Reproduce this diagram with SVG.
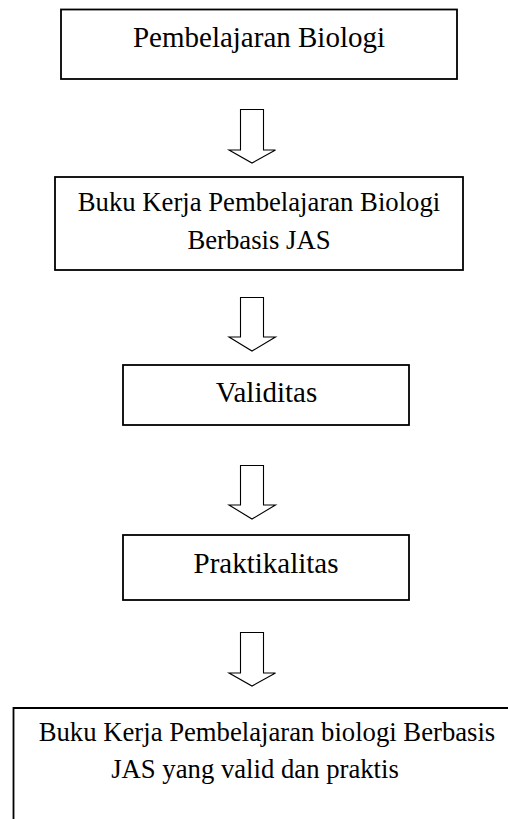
<svg xmlns="http://www.w3.org/2000/svg" width="508" height="819" viewBox="0 0 508 819">
<style>
.box{fill:#fff;stroke:#000;stroke-width:1.8}
.arr{fill:#fff;stroke:#000;stroke-width:1.1;stroke-linejoin:miter}
text{fill:#000;text-anchor:middle;font-family:"Liberation Serif","Times New Roman",serif}
.big{font-size:29px}
.med{font-size:26.7px}
</style>
<rect width="508" height="819" fill="#fff"/>
<g id="connectors">
<path class="arr" d="M240.5,109.5 H263.5 V150 H275.5 L252,163 L229,150 H240.5 Z"/>
<path class="arr" d="M240.5,297.5 H263.5 V337 H275.5 L252,351 L229,337 H240.5 Z"/>
<path class="arr" d="M240.5,465.5 H263.5 V505 H275.5 L252,519 L229,505 H240.5 Z"/>
<path class="arr" d="M240.5,632.5 H263.5 V673 H275.5 L252,686 L229,673 H240.5 Z"/>
</g>
<g id="n1">
<rect class="box" x="61" y="9.5" width="396" height="69.5"/>
<text class="big" x="259" y="46.5">Pembelajaran Biologi</text>
</g>
<g id="n2">
<rect class="box" x="55" y="177" width="408" height="93"/>
<text class="med" x="259" y="211">Buku Kerja Pembelajaran Biologi</text>
<text class="med" x="259" y="249">Berbasis JAS</text>
</g>
<g id="n3">
<rect class="box" x="123" y="365" width="286" height="60"/>
<text class="big" x="266.5" y="402">Validitas</text>
</g>
<g id="n4">
<rect class="box" x="123" y="535" width="286" height="65"/>
<text class="big" x="266" y="573">Praktikalitas</text>
</g>
<g id="n5">
<path class="box" d="M13.5,820 V708 H510"/>
<text class="med" x="267" y="741">Buku Kerja Pembelajaran biologi Berbasis</text>
<text class="med" x="255" y="778">JAS yang valid dan praktis</text>
</g>
</svg>
